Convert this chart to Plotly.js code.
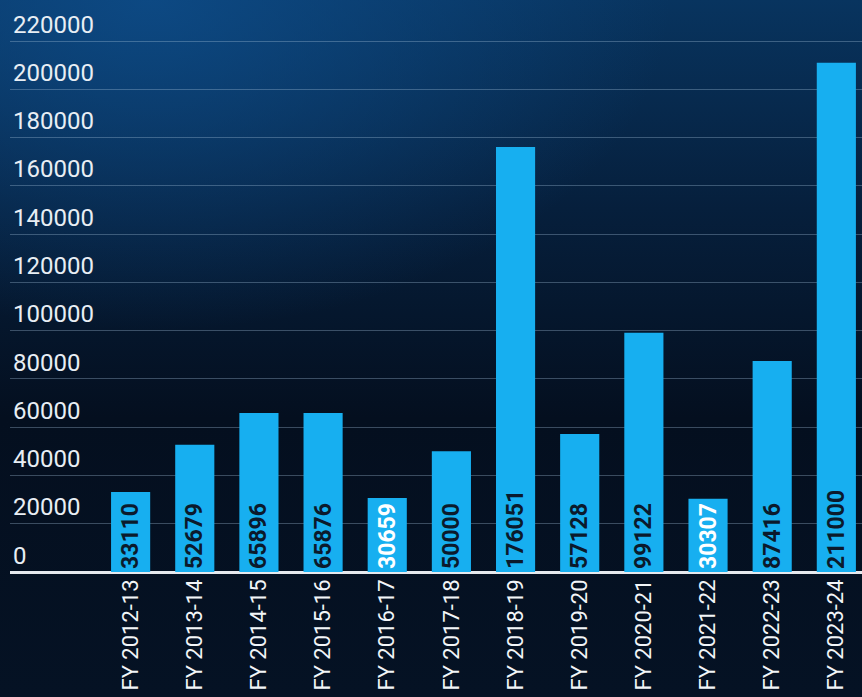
<!DOCTYPE html>
<html>
<head>
<meta charset="utf-8">
<script src="https://cdn.plot.ly/plotly-3.0.1.min.js"></script>
<style>
html,body{margin:0;padding:0;width:862px;height:697px;overflow:hidden;}
#chart{width:862px;height:697px;
background:
 radial-gradient(ellipse 520px 330px at 150px 0px, rgba(14,78,140,0.8), rgba(14,78,140,0) 100%),
 linear-gradient(180deg, #08345f 0%, #061f3c 30%, #040f1f 60%, #051224 100%);}
</style>
</head>
<body>
<div id="chart"></div>
<script>
const categories = ["FY 2012-13","FY 2013-14","FY 2014-15","FY 2015-16","FY 2016-17","FY 2017-18","FY 2018-19","FY 2019-20","FY 2020-21","FY 2021-22","FY 2022-23","FY 2023-24"];
const values = [33110, 52679, 65896, 65876, 30659, 50000, 176051, 57128, 99122, 30307, 87416, 211000];
const yTicks = [0,20000,40000,60000,80000,100000,120000,140000,160000,180000,200000,220000];
const whiteLabelIdx = [4, 9];

const textColors = values.map((v,i)=> whiteLabelIdx.includes(i) ? "#ffffff" : "#0b1a2c");

const trace = {
  type: "bar",
  x: categories,
  y: values,
  text: values.map(String),
  texttemplate: "%{text}",
  textposition: "inside",
  insidetextanchor: "start",
  textangle: -90,
  constraintext: "none",
  cliponaxis: false,
  textfont: {family: "Roboto, 'DejaVu Sans', sans-serif", size: 23, color: textColors, weight: 700},
  marker: {color: "#17aff0", line: {width: 0}},
  width: 0.61,
  hoverinfo: "none"
};

const layout = {
  width: 862, height: 697,
  margin: {l: 10, r: 0, t: 0, b: 125},
  paper_bgcolor: "rgba(0,0,0,0)",
  plot_bgcolor: "rgba(0,0,0,0)",
  showlegend: false,
  bargap: 0.39,
  xaxis: {
    type: "category",
    range: [-1.88, 11.4],
    tickangle: -90,
    tickfont: {family: "Roboto, 'DejaVu Sans', sans-serif", size: 22, color: "#f2f5f8"},
    showgrid: false,
    zeroline: false,
    showline: false,
    ticks: "",
    ticklabelstandoff: 2
  },
  yaxis: {
    range: [0, 237000],
    tickvals: yTicks,
    ticktext: yTicks.map(String),
    ticklabelposition: "inside top",
    tickfont: {family: "Roboto, 'DejaVu Sans', sans-serif", size: 24, color: "#e8eef4"},
    showgrid: true,
    gridcolor: "rgba(160,190,215,0.35)",
    gridwidth: 1,
    zeroline: true,
    zerolinecolor: "#e6e9ee",
    zerolinewidth: 3,
    showline: false,
    ticks: ""
  }
};

Plotly.newPlot("chart", [trace], layout, {displayModeBar: false, staticPlot: true});
</script>
</body>
</html>
